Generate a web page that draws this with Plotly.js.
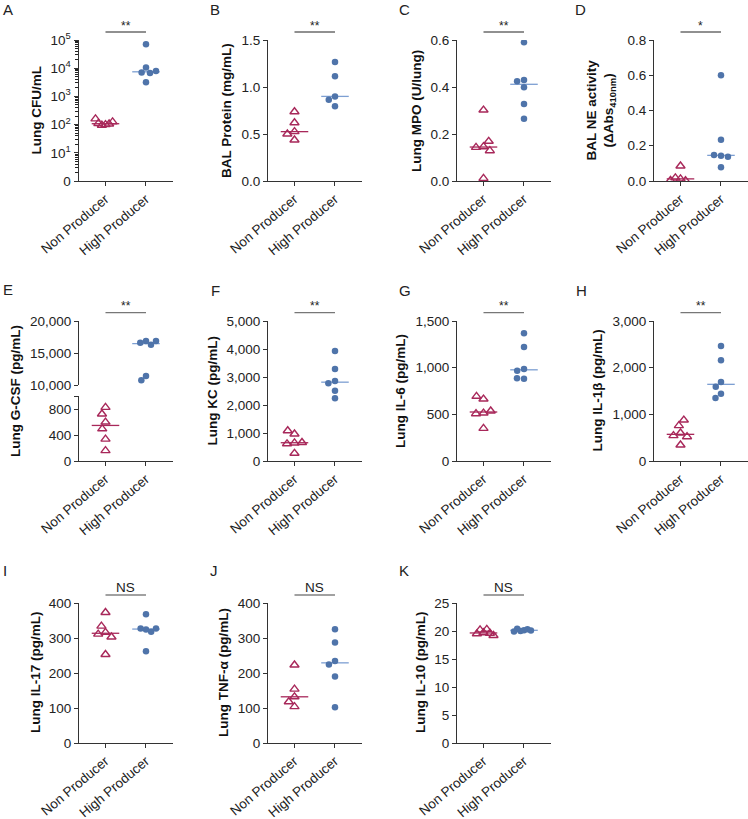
<!DOCTYPE html>
<html><head><meta charset="utf-8">
<script src="https://cdn.plot.ly/plotly-3.0.1.min.js"></script>
<style>html,body{margin:0;padding:0;background:#fff}#chart{width:748px;height:819px}</style>
</head><body><div id="chart"></div>
<script>
// ---------- data ----------
const groups = ['Non Producer', 'High Producer'];
// A Lung CFU/mL
const cfuNon = [100, 95, 105, 110, 125, 160];
const cfuHigh = [70000, 10500, 7000, 6800, 7900, 3200];
const cfuTickVals = [1, 10, 100, 1000, 10000, 100000];
const cfuTickText = ['0', '10<sup>1</sup>', '10<sup>2</sup>', '10<sup>3</sup>', '10<sup>4</sup>', '10<sup>5</sup>'];
// B BAL protein
const protNon = [0.525, 0.737, 0.62, 0.50, 0.436];
const protHigh = [0.90, 1.266, 1.114, 0.865, 0.795];
// C Lung MPO
const mpoNon = [0.146, 0.143, 0.129, 0.302, 0.169, 0.011];
const mpoHigh = [0.399, 0.59, 0.43, 0.424, 0.328, 0.265];
// D BAL NE activity
const neNon = [0.012, 0.085, 0.018, 0.002, 0.004];
const neHigh = [0.143, 0.60, 0.234, 0.148, 0.138, 0.078];
// E Lung G-CSF
const gcsfNon = [825, 723, 599, 495, 336, 160];
const gcsfHigh = [16890, 16625, 16310, 16890, 11450, 10780];
const gcsfLowTicks = [0, 400, 800];
// F Lung KC
const kcNon = [645, 615, 660, 964, 1082, 275];
const kcHigh = [3929, 3286, 2857, 2774, 2512, 2238];
// G Lung IL-6
const il6Non = [514, 507, 536, 664, 693, 350];
const il6High = [1368, 1221, 986, 968, 882, 886];
// H Lung IL-1beta
const il1bNon = [600, 543, 521, 757, 878, 343];
const il1bHigh = [2464, 2157, 1693, 1593, 1443, 1350];
// I Lung IL-17
const il17Non = [316, 311, 303, 334, 373, 253];
const il17High = [324, 327, 318, 327, 368, 262];
// J Lung TNF-alpha
const tnfNon = [132, 118, 154, 104, 223];
const tnfHigh = [234, 224, 287, 325, 190, 102];
// K Lung IL-10
const il10Non = [19.7, 20.2, 20.3, 19.6, 19.5, 19.2];
const il10High = [20.15, 20.0, 20.3, 20.1, 20.4, 19.9];

// ---------- layout helpers ----------
const W = 748, H = 819;
const colLeft = [79, 268, 457, 654];
const rows = [[40, 181], [321, 461], [603, 743]];
const plotW = 94;
const xr = [-0.654, 1.667];
const pxPerCat = plotW / (xr[1] - xr[0]);
const nonColor = '#a8285a', highColor = '#4f74aa', highLine = '#7d9fd2';
const FONT = 'Liberation Sans, Arial, Helvetica, sans-serif';

const panels = [
  {n:1, col:0, row:0, letter:'A', lx:1, ly:10, non:cfuNon, high:cfuHigh, type:'log', range:[0,5], tickvals:cfuTickVals, ticktext:cfuTickText, title:'Lung CFU/mL', tx:36, sig:'**'},
  {n:2, col:1, row:0, letter:'B', lx:208, ly:10, non:protNon, high:protHigh, range:[0,1.5], dtick:0.5, fmt:'.1f', title:'BAL Protein (mg/mL)', tx:226.5, sig:'**'},
  {n:3, col:2, row:0, letter:'C', lx:397, ly:10, non:mpoNon, high:mpoHigh, range:[0,0.6], dtick:0.2, fmt:'.1f', title:'Lung MPO (U/lung)', tx:416.5, sig:'**'},
  {n:4, col:3, row:0, letter:'D', lx:573, ly:10, non:neNon, high:neHigh, range:[0,0.8], dtick:0.2, fmt:'.1f', title:'BAL NE activity<br>(\u0394Abs<sub>410nm</sub>)', tx:601, sig:'*'},
  {n:5, col:0, row:1, letter:'E', lx:1, ly:289, non:gcsfNon, high:gcsfHigh, broken:true, title:'Lung G-CSF (pg/mL)', tx:15, sig:'**'},
  {n:6, col:1, row:1, letter:'F', lx:209, ly:290, non:kcNon, high:kcHigh, range:[0,5000], dtick:1000, fmt:',d', title:'Lung KC (pg/mL)', tx:211.5, sig:'**'},
  {n:7, col:2, row:1, letter:'G', lx:397, ly:290, non:il6Non, high:il6High, range:[0,1500], dtick:500, fmt:',d', title:'Lung IL-6 (pg/mL)', tx:400, sig:'**'},
  {n:8, col:3, row:1, letter:'H', lx:574, ly:290, non:il1bNon, high:il1bHigh, range:[0,3000], dtick:1000, fmt:',d', title:'Lung IL-1\u03b2 (pg/mL)', tx:596.5, sig:'**'},
  {n:9, col:0, row:2, letter:'I', lx:1, ly:570, non:il17Non, high:il17High, range:[0,400], dtick:100, fmt:'d', title:'Lung IL-17 (pg/mL)', tx:35, sig:'NS'},
  {n:10, col:1, row:2, letter:'J', lx:208, ly:570, non:tnfNon, high:tnfHigh, range:[0,400], dtick:100, fmt:'d', title:'Lung TNF-\u03b1 (pg/mL)', tx:223, sig:'NS'},
  {n:11, col:2, row:2, letter:'K', lx:397, ly:570, non:il10Non, high:il10High, range:[0,25], dtick:5, fmt:'d', title:'Lung IL-10 (pg/mL)', tx:420, sig:'NS'}
];
const sigLineY = [32, 312.7, 595];
const sigTextY = [25.5, 306, 587];
const sigLineColor = ['#222', '#777', '#444'];

function median(a) {
  const s = a.slice().sort((p, q) => p - q);
  const m = Math.floor(s.length / 2);
  return s.length % 2 ? s[m] : (s[m - 1] + s[m]) / 2;
}
// beeswarm offsets (in category units) from pixel collision; spread capped
function swarm(vals, toPx, d, cap) {
  const placed = [];
  vals.forEach(v => {
    const y = toPx(v);
    const forb = [];
    placed.forEach(p => {
      const dy = Math.abs(p.y - y);
      if (dy < d) { const h = Math.sqrt(d * d - dy * dy); forb.push([p.x - h, p.x + h]); }
    });
    const cands = [0];
    forb.forEach(f => cands.push(f[0] - 0.01, f[1] + 0.01));
    const ok = c => forb.every(f => c <= f[0] || c >= f[1]);
    let best = null;
    cands.filter(ok).forEach(c => { if (best === null || Math.abs(c) < Math.abs(best) - 1e-6) best = c; });
    placed.push({x: best, y: y});
  });
  const mx = Math.max(...placed.map(p => Math.abs(p.x)));
  const k = mx > cap ? cap / mx : 1;
  return placed.map(p => p.x * k / pxPerCat);
}

const data = [], layout = {
  width: W, height: H, margin: {l: 0, r: 0, t: 0, b: 0},
  paper_bgcolor: '#fff', plot_bgcolor: 'rgba(0,0,0,0)', showlegend: false,
  font: {family: FONT, size: 13, color: '#222'},
  annotations: [], shapes: []
};
const py = p => 1 - p / H;

function yAxisBase() {
  return {showline: true, linecolor: '#333', linewidth: 1, ticks: 'outside', ticklen: 4, tickcolor: '#333',
    showgrid: false, zeroline: false, tickfont: {family: FONT, size: 13.5, color: '#222'}, fixedrange: true};
}

panels.forEach(p => {
  const left = colLeft[p.col], [top, bot] = rows[p.row];
  const xa = 'xaxis' + (p.n === 1 ? '' : p.n), ya = 'yaxis' + (p.n === 1 ? '' : p.n);
  const xs = 'x' + (p.n === 1 ? '' : p.n), ys = 'y' + (p.n === 1 ? '' : p.n);
  layout[xa] = {domain: [left / W, Math.min(1, (left + plotW) / W)], range: xr, anchor: ys,
    tickmode: 'array', tickvals: [0, 1], ticktext: groups, tickangle: -40,
    showline: true, linecolor: '#333', ticks: 'outside', ticklen: 4, tickcolor: '#333',
    showgrid: false, zeroline: false, tickfont: {family: FONT, size: 13.5, color: '#222'}, fixedrange: true};
  let toPx, subplots;
  if (!p.broken) {
    const y = yAxisBase();
    y.domain = [py(bot), py(top)]; y.anchor = xs;
    const hpx = bot - top;
    if (p.type === 'log') {
      y.type = 'log'; y.range = p.range; y.tickmode = 'array'; y.tickvals = p.tickvals; y.ticktext = p.ticktext;
      y.linewidth = 1.5;
      y.minor = {ticks: 'outside', ticklen: 2.5, tickcolor: '#222', dtick: 'D1', showgrid: false};
      toPx = v => (Math.log10(v) - p.range[0]) * hpx / (p.range[1] - p.range[0]);
    } else {
      y.range = p.range; y.tick0 = 0; y.dtick = p.dtick; y.tickformat = p.fmt;
      toPx = v => (v - p.range[0]) * hpx / (p.range[1] - p.range[0]);
    }
    layout[ya] = y;
    subplots = [ys];
  } else {
    // broken axis: lower 0-1000, upper 10000-20000
    const lowTop = 396, upBot = 385.3;
    const yl = yAxisBase();
    yl.domain = [py(bot), py(lowTop)]; yl.anchor = xs; yl.range = [0, 1000];
    yl.tickmode = 'array'; yl.tickvals = gcsfLowTicks;
    yl.minor = {tickmode: 'array', tickvals: [1000], ticks: 'outside', ticklen: 4, tickcolor: '#333', showgrid: false};
    layout[ya] = yl;
    const yu = yAxisBase();
    yu.domain = [py(upBot), py(top)]; yu.anchor = xs; yu.range = [10000, 20000];
    yu.tick0 = 10000; yu.dtick = 5000; yu.tickformat = ',d';
    layout['yaxis12'] = yu;
    const lowH = bot - lowTop, upH = upBot - top;
    toPx = v => v <= 1000 ? v * lowH / 1000 : (bot - upBot) + (v - 10000) * upH / 10000;
    subplots = [ys, 'y12'];
  }
  const nonOff = swarm(p.non, toPx, 7.5, 10);
  const highOff = swarm(p.high, toPx, 7, 10);
  const mNon = median(p.non), mHigh = median(p.high);
  subplots.forEach(s => {
    data.push({type: 'scatter', mode: 'lines', xaxis: xs, yaxis: s, x: [-0.34, 0.34], y: [mNon, mNon],
      line: {color: nonColor, width: 1.3}, hoverinfo: 'skip'});
    data.push({type: 'scatter', mode: 'lines', xaxis: xs, yaxis: s, x: [1 - 0.34, 1 + 0.34], y: [mHigh, mHigh],
      line: {color: highLine, width: 1.3}, hoverinfo: 'skip'});
    data.push({type: 'scatter', mode: 'markers', xaxis: xs, yaxis: s, name: groups[0],
      x: nonOff.map(o => 0 + o), y: p.non,
      marker: {symbol: 'triangle-up-open', size: 8, color: nonColor, line: {color: nonColor, width: 1.4}}});
    data.push({type: 'scatter', mode: 'markers', xaxis: xs, yaxis: s, name: groups[1],
      x: highOff.map(o => 1 + o), y: p.high,
      marker: {symbol: 'circle', size: 6.5, color: highColor, line: {width: 0}}});
  });
  // y title
  layout.annotations.push({text: '<b>' + p.title.replace('<br>', '</b><br><b>') + '</b>', textangle: -90,
    xref: 'paper', yref: 'paper', x: p.tx / W, y: py((top + bot) / 2), xanchor: 'center', yanchor: 'middle',
    showarrow: false, font: {family: FONT, size: 13.5, color: '#111'}});
  // panel letter
  layout.annotations.push({text: p.letter, xref: 'paper', yref: 'paper', x: p.lx / W, y: py(p.ly),
    xanchor: 'left', yanchor: 'middle', showarrow: false, font: {family: FONT, size: 15, color: '#222'}});
  // significance bar
  layout.shapes.push({type: 'line', xref: xs, yref: 'paper', x0: 0, x1: 1, y0: py(sigLineY[p.row]), y1: py(sigLineY[p.row]),
    line: {color: sigLineColor[p.row], width: 1.2}});
  layout.annotations.push({text: p.sig, xref: xs, yref: 'paper', x: 0.5, y: py(sigTextY[p.row]),
    xanchor: 'center', yanchor: 'middle', showarrow: false,
    font: {family: FONT, size: p.sig === 'NS' ? 13.5 : 12, color: '#222'}});
});

Plotly.newPlot('chart', data, layout, {staticPlot: true, displayModeBar: false});
</script>
</body></html>
